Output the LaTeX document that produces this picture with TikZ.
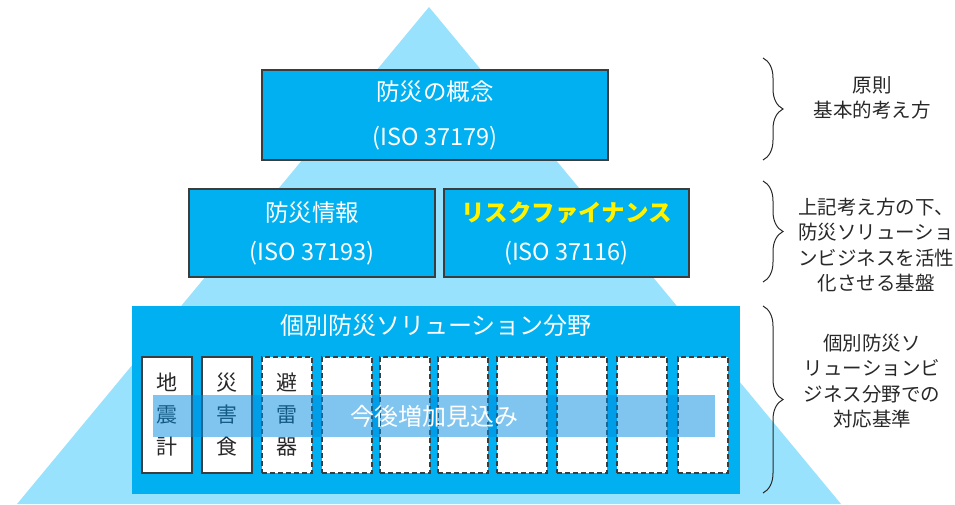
\documentclass[tikz,border=0pt]{standalone}
\usepackage{fontspec}
\setmainfont{Noto Sans CJK JP}
\usetikzlibrary{decorations.pathreplacing}
\definecolor{tri}{RGB}{153,226,253}
\definecolor{mainblue}{RGB}{0,176,240}
\definecolor{edgegray}{RGB}{60,60,60}
\definecolor{bandc}{RGB}{0,140,225}
\definecolor{notegray}{RGB}{40,40,40}
\begin{document}
\begin{tikzpicture}[x=1pt,y=-1pt,
  tierbox/.style={draw=edgegray,line width=1.3pt,fill=mainblue,text=white,align=center,inner sep=0pt},
  colbox/.style={draw=edgegray,line width=1.2pt,fill=white,minimum width=50pt,minimum height=116pt,inner sep=0pt,align=center,text=notegray,font=\fontsize{21}{32}\selectfont},
  dashbox/.style={colbox,dash pattern=on 5pt off 3pt},
  note/.style={align=center,text=notegray,font=\fontsize{19.5}{25.5}\selectfont},
  bracepath/.style={draw=notegray,line width=1pt,decorate,decoration={brace,amplitude=20pt}}
]
\useasboundingbox (0,0) rectangle (955,504);
\fill[tri] (429,7) -- (841,504) -- (17,504) -- cycle;

\node[tierbox,minimum width=346pt,minimum height=90pt,font=\fontsize{23.5}{45}\selectfont] (top) at (435,115) {防災の概念\\(ISO 37179)};
\node[tierbox,minimum width=246pt,minimum height=88pt,font=\fontsize{23.5}{39}\selectfont] (info) at (312,233) {防災情報\\(ISO 37193)};
\node[tierbox,minimum width=245pt,minimum height=88pt,font=\fontsize{23.5}{39}\selectfont] (risk) at (566.5,233) {\textcolor{yellow}{\bfseries リスクファイナンス}\\(ISO 37116)};

\node[fill=mainblue,minimum width=608pt,minimum height=188pt,inner sep=0pt] (field) at (436,400) {};
\node[text=white,font=\fontsize{24}{24}\selectfont] (fieldtitle) at (436,325) {個別防災ソリューション分野};

\node[colbox] (c1) at (167,415) {地\\震\\計};
\node[colbox] (c2) at (227,415) {災\\害\\食};
\node[dashbox] (c3) at (287,415) {避\\雷\\器};
\node[dashbox] (c4) at (347,415) {};
\node[dashbox] (c5) at (405,415) {};
\node[dashbox] (c6) at (463,415) {};
\node[dashbox] (c7) at (522,415) {};
\node[dashbox] (c8) at (582,415) {};
\node[dashbox] (c9) at (642,415) {};
\node[dashbox] (c10) at (703,415) {};

\fill[bandc,opacity=0.5] (153,395) rectangle (715,437);
\node[text=white,font=\fontsize{24}{24}\selectfont] (future) at (434,416) {今後増加見込み};

\coordinate (b1t) at (763,58);
\coordinate (b1b) at (763,160);
\coordinate (b2t) at (763,181);
\coordinate (b2b) at (763,282);
\coordinate (b3t) at (763,306);
\coordinate (b3b) at (763,493);
\draw[bracepath] (b1t) -- (b1b);
\draw[bracepath] (b2t) -- (b2b);
\draw[bracepath] (b3t) -- (b3b);

\node[note] (n1) at (872,98) {原則\\基本的考え方};
\node[note] (n2) at (876,245) {上記考え方の下、\\防災ソリューショ\\ンビジネスを活性\\化させる基盤};
\node[note] (n3) at (872,381) {個別防災ソ\\リューションビ\\ジネス分野での\\対応基準};
\end{tikzpicture}
\end{document}
